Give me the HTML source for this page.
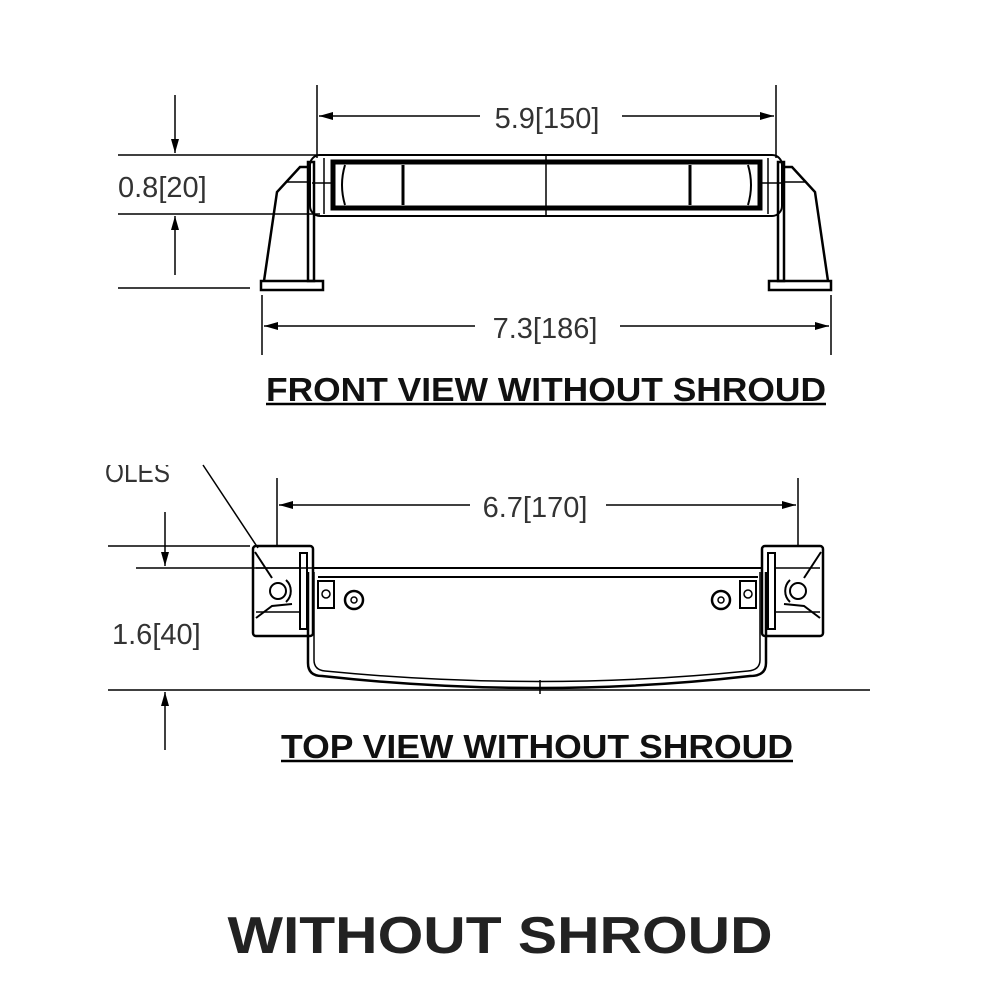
<!DOCTYPE html>
<html><head><meta charset="utf-8"><style>
html,body{margin:0;padding:0;background:#fff;width:1000px;height:1000px;overflow:hidden}
svg{display:block}
.d{font-family:"Liberation Sans",sans-serif;font-size:29px;fill:#333}
.t{font-family:"Liberation Sans",sans-serif;font-weight:bold;font-size:33px;fill:#111}
</style></head><body>
<svg width="1000" height="1000" viewBox="0 0 1000 1000" xmlns="http://www.w3.org/2000/svg">
<defs>
<marker id="a" markerWidth="14" markerHeight="8" refX="14" refY="4" orient="auto" markerUnits="userSpaceOnUse"><path d="M0,0 L14,4 L0,8 z" fill="#000"/></marker>
</defs>
<g stroke="#000" fill="none" stroke-width="1.5">
<line x1="317" y1="85" x2="317" y2="158"/>
<line x1="776" y1="85" x2="776" y2="158"/>
<line x1="480" y1="116" x2="319" y2="116" marker-end="url(#a)"/>
<line x1="622" y1="116" x2="774" y2="116" marker-end="url(#a)"/>
<line x1="118" y1="155" x2="320" y2="155"/>
<line x1="118" y1="214" x2="320" y2="214"/>
<line x1="118" y1="288" x2="250" y2="288"/>
<line x1="175" y1="95" x2="175" y2="153" marker-end="url(#a)"/>
<line x1="175" y1="275" x2="175" y2="216" marker-end="url(#a)"/>
<line x1="262" y1="295" x2="262" y2="355"/>
<line x1="831" y1="295" x2="831" y2="355"/>
<line x1="475" y1="326" x2="264" y2="326" marker-end="url(#a)"/>
<line x1="620" y1="326" x2="829" y2="326" marker-end="url(#a)"/>
<rect x="310" y="155" width="472" height="61" rx="10" stroke-width="2"/>
<rect x="333" y="162" width="427" height="46" stroke-width="5"/>
<line x1="546" y1="155" x2="546" y2="216"/>
<line x1="403" y1="165" x2="403" y2="205" stroke-width="3"/>
<line x1="690" y1="165" x2="690" y2="205" stroke-width="3"/>
<path d="M345,165 q-6,20 0,40 M748,165 q6,20 0,40" stroke-width="2"/>
<line x1="324" y1="158" x2="324" y2="214"/>
<line x1="768" y1="158" x2="768" y2="214"/>
<line x1="312" y1="183" x2="335" y2="183"/>
<line x1="758" y1="183" x2="781" y2="183"/>
<path d="M264,281 L277,192 L300,167 L310,167" stroke-width="2.5"/>
<line x1="287" y1="182" x2="310" y2="182"/>
<rect x="308" y="162" width="6" height="119" stroke-width="2.5"/>
<rect x="261" y="281" width="62" height="9" stroke-width="2.5"/>
<path d="M828,281 L815,192 L792,167 L782,167" stroke-width="2.5"/>
<line x1="782" y1="182" x2="805" y2="182"/>
<rect x="778" y="162" width="6" height="119" stroke-width="2.5"/>
<rect x="769" y="281" width="62" height="9" stroke-width="2.5"/>
<line x1="266" y1="404" x2="826" y2="404" stroke-width="2.5"/>

<line x1="277" y1="478" x2="277" y2="545"/>
<line x1="798" y1="478" x2="798" y2="545"/>
<line x1="470" y1="505" x2="279" y2="505" marker-end="url(#a)"/>
<line x1="606" y1="505" x2="796" y2="505" marker-end="url(#a)"/>
<line x1="108" y1="546" x2="250" y2="546"/>
<line x1="136" y1="568" x2="320" y2="568"/>
<line x1="108" y1="690" x2="870" y2="690"/>
<line x1="165" y1="512" x2="165" y2="566" marker-end="url(#a)"/>
<line x1="165" y1="750" x2="165" y2="692" marker-end="url(#a)"/>
<line x1="203" y1="465" x2="258" y2="548"/>
<rect x="253" y="546" width="60" height="90" rx="3" stroke-width="2.5"/>
<rect x="300" y="553" width="7" height="76" stroke-width="2"/>
<circle cx="278" cy="591" r="8" stroke-width="2"/>
<path d="M255,552 L272,578 M256,618 L272,606 L292,604 M286,580 a15,15 0 0 1 0,22" stroke-width="2"/>
<line x1="256" y1="568" x2="300" y2="568"/>
<line x1="256" y1="612" x2="300" y2="612"/>
<rect x="762" y="546" width="61" height="90" rx="3" stroke-width="2.5"/>
<rect x="768" y="553" width="7" height="76" stroke-width="2"/>
<circle cx="798" cy="591" r="8" stroke-width="2"/>
<path d="M821,552 L804,578 M820,618 L804,606 L784,604 M790,580 a15,15 0 0 0 0,22" stroke-width="2"/>
<line x1="775" y1="568" x2="820" y2="568"/>
<line x1="775" y1="612" x2="820" y2="612"/>
<path d="M308,572 L308,663 Q308,676 322,676 Q540,700 750,676 Q766,676 766,663 L766,572" stroke-width="2.5"/>
<path d="M314,572 L314,660 Q314,670 325,671 Q540,692 748,671 Q760,670 760,660 L760,572" stroke-width="1.5"/>
<line x1="313" y1="568" x2="762" y2="568" stroke-width="2"/>
<line x1="318" y1="577" x2="758" y2="577" stroke-width="2"/>
<rect x="318" y="581" width="16" height="27" stroke-width="2"/>
<circle cx="326" cy="594" r="4"/>
<circle cx="354" cy="600" r="9" stroke-width="2.5"/><circle cx="354" cy="600" r="3"/>
<rect x="740" y="581" width="16" height="27" stroke-width="2"/>
<circle cx="748" cy="594" r="4"/>
<circle cx="721" cy="600" r="9" stroke-width="2.5"/><circle cx="721" cy="600" r="3"/>
<line x1="540" y1="680" x2="540" y2="694"/>
<line x1="281" y1="761" x2="793" y2="761" stroke-width="2.5"/>
</g>
<text class="d" x="547" y="128" text-anchor="middle">5.9[150]</text>
<text class="d" x="118" y="197">0.8[20]</text>
<text class="d" x="545" y="338" text-anchor="middle">7.3[186]</text>
<text class="t" x="266" y="401" textLength="560" lengthAdjust="spacingAndGlyphs">FRONT VIEW WITHOUT SHROUD</text>
<text class="d" x="105" y="482" textLength="65" lengthAdjust="spacingAndGlyphs">OLES</text>
<rect x="100" y="440" width="80" height="25" fill="#fff"/>
<text class="d" x="535" y="517" text-anchor="middle">6.7[170]</text>
<text class="d" x="112" y="644">1.6[40]</text>
<text class="t" x="281" y="758" textLength="512" lengthAdjust="spacingAndGlyphs">TOP VIEW WITHOUT SHROUD</text>
<text x="500" y="953" text-anchor="middle" font-family="Liberation Sans, sans-serif" font-weight="bold" font-size="52" fill="#222" textLength="545" lengthAdjust="spacingAndGlyphs">WITHOUT SHROUD</text>
</svg>
</body></html>
